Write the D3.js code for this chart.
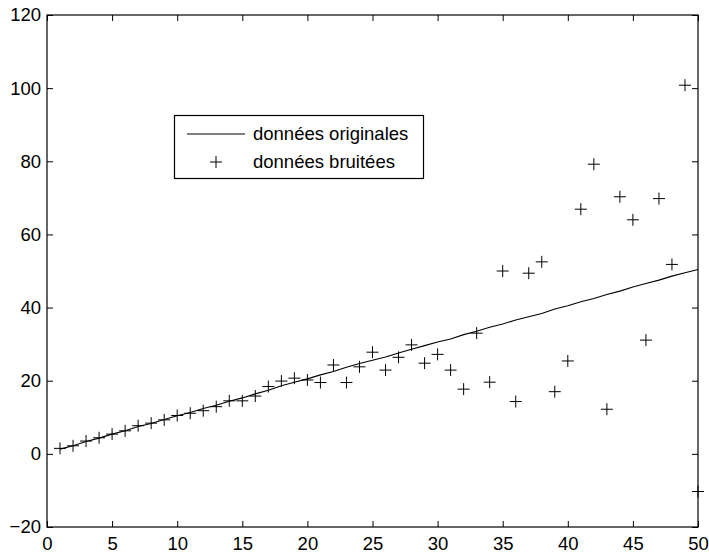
<!DOCTYPE html>
<html>
<head>
<meta charset="utf-8">
<script src="https://cdn.jsdelivr.net/npm/d3@7"></script>
<style>
  body { margin: 0; background: #fff; }
  svg { display: block; font-family: "Liberation Sans", Arial, sans-serif; }
</style>
</head>
<body>
<svg id="chart" width="709" height="554"></svg>
<script>
// sample index
var xs = d3.range(1, 51);
// "données originales" (line)
var original = [1.3, 2.2, 3.4, 4.3, 5.4, 6.3, 7.5, 8.3, 9.4, 10.4,
  11.3, 12.4, 13.3, 14.4, 15.3, 16.4, 17.4, 18.6, 19.6, 20.5,
  21.6, 22.5, 23.7, 24.7, 25.6, 26.5, 27.6, 28.6, 29.6, 30.6,
  31.4, 32.6, 33.5, 34.6, 35.5, 36.6, 37.5, 38.4, 39.6, 40.5,
  41.6, 42.5, 43.6, 44.5, 45.6, 46.6, 47.5, 48.6, 49.5, 50.4];
// "données bruitées" (+ markers)
var noisy = [1.5, 2.2, 3.5, 4.4, 5.4, 6.3, 7.7, 8.4, 9.3, 10.5,
  11.1, 11.8, 12.9, 14.5, 14.5, 15.8, 18.4, 19.9, 20.7, 20.2,
  19.5, 24.3, 19.5, 23.8, 27.8, 22.9, 26.4, 29.8, 24.8, 27.2,
  22.9, 17.7, 33.0, 19.6, 50.0, 14.3, 49.4, 52.5, 17.0, 25.4,
  66.9, 79.2, 12.2, 70.3, 64.0, 31.1, 69.8, 51.8, 100.8, -10.3];
var xTicks = [0, 5, 10, 15, 20, 25, 30, 35, 40, 45, 50];
var yTicks = [-20, 0, 20, 40, 60, 80, 100, 120];
var legendLabels = ["données originales", "données bruitées"];

var W = 709, H = 554;
var margin = {top: 15, right: 11, bottom: 27, left: 47};
var w = W - margin.left - margin.right;
var h = H - margin.top - margin.bottom;

var svg = d3.select("#chart");
var g = svg.append("g")
    .attr("transform", "translate(" + margin.left + "," + margin.top + ")");

var x = d3.scaleLinear().domain([0, 50]).range([0, w]);
var y = d3.scaleLinear().domain([-20, 120]).range([h, 0]);

// axes, ticks pointing inward like matlab
var tickLen = 6;
function styleAxis(sel) {
    sel.select(".domain").remove();
    sel.selectAll("line").attr("stroke", "#000");
    sel.selectAll("text").attr("fill", "#000").style("font-size", "18.5px");
}

g.append("g")
    .attr("transform", "translate(0," + h + ")")
    .call(d3.axisBottom(x).tickValues(xTicks).tickSize(-tickLen).tickPadding(10))
    .call(styleAxis);
g.append("g")
    .call(d3.axisTop(x).tickValues(xTicks).tickSize(-tickLen).tickFormat(""))
    .call(styleAxis);
g.append("g")
    .call(d3.axisLeft(y).tickValues(yTicks).tickSize(-tickLen).tickPadding(6))
    .call(styleAxis);
g.append("g")
    .attr("transform", "translate(" + w + ",0)")
    .call(d3.axisRight(y).tickValues(yTicks).tickSize(-tickLen).tickFormat(""))
    .call(styleAxis);

g.append("rect")
    .attr("x", 0).attr("y", 0).attr("width", w).attr("height", h)
    .attr("fill", "none").attr("stroke", "#000").attr("stroke-width", 1.2);

// original line
var line = d3.line()
    .x(function(d, i) { return x(xs[i]); })
    .y(function(d) { return y(d); });
g.append("path")
    .datum(original)
    .attr("d", line)
    .attr("fill", "none")
    .attr("stroke", "#000")
    .attr("stroke-width", 1.1);

// noisy markers
var arm = 6;
var plusPath = "M" + (-arm) + ",0H" + arm + "M0," + (-arm) + "V" + arm;
g.selectAll(".pt")
    .data(noisy)
    .enter().append("path")
    .attr("class", "pt")
    .attr("transform", function(d, i) { return "translate(" + x(xs[i]) + "," + y(d) + ")"; })
    .attr("d", plusPath)
    .attr("fill", "none")
    .attr("stroke", "#000")
    .attr("stroke-width", 1);

// legend
var lg = svg.append("g");
lg.append("rect")
    .attr("x", 174.5).attr("y", 115.5).attr("width", 249).attr("height", 63)
    .attr("fill", "#fff").attr("stroke", "#000").attr("stroke-width", 1.2);
lg.append("line")
    .attr("x1", 187).attr("x2", 245).attr("y1", 134).attr("y2", 134)
    .attr("stroke", "#000").attr("stroke-width", 1.1);
lg.append("path")
    .attr("transform", "translate(216,162)")
    .attr("d", plusPath)
    .attr("stroke", "#000").attr("fill", "none");
lg.selectAll("text.lab")
    .data(legendLabels)
    .enter().append("text")
    .attr("class", "lab")
    .attr("x", 253)
    .attr("y", function(d, i) { return 134 + i * 28; })
    .attr("dy", "0.35em")
    .style("font-size", "18.5px")
    .attr("fill", "#000")
    .text(function(d) { return d; });
</script>
</body>
</html>
